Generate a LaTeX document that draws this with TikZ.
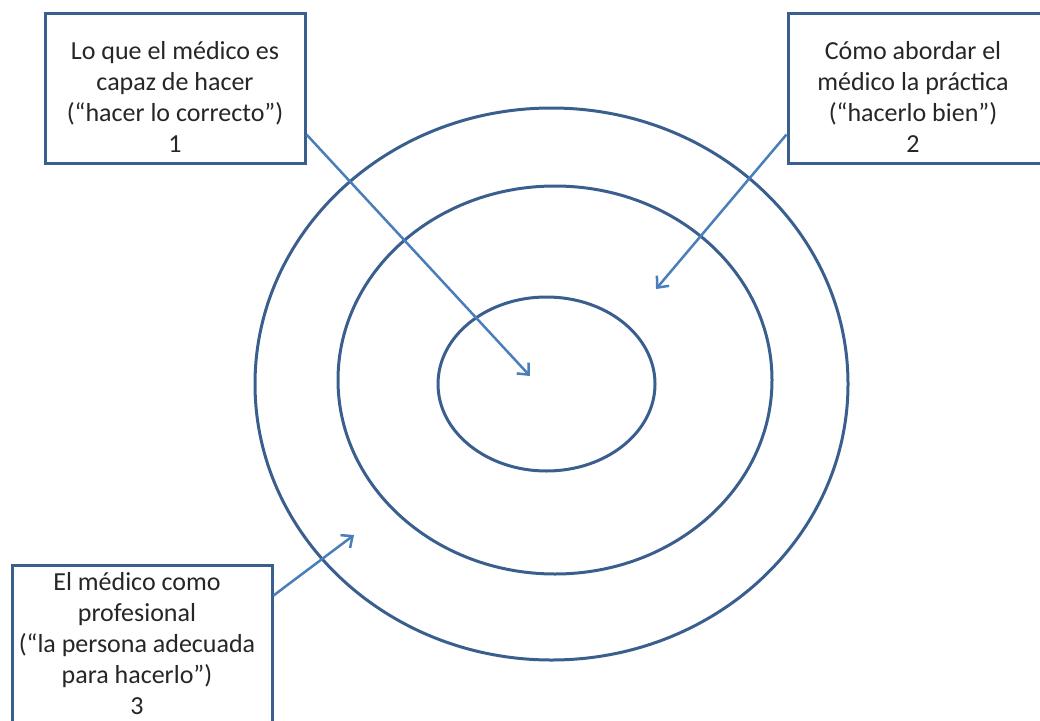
\documentclass[tikz,border=0pt]{standalone}
\usepackage{fontspec}
\setmainfont{Carlito}
\usetikzlibrary{arrows.meta, positioning, calc}
\definecolor{ringblue}{HTML}{3A5F8F}
\definecolor{arrowblue}{HTML}{4A7EBB}

\begin{document}
\begin{tikzpicture}[x=1pt,y=-1pt]
    \tikzstyle{every node} = [font=\fontsize{26}{31}\selectfont, text=black!85]
    \tikzstyle{box} = [draw=ringblue, line width=3pt, fill=white, rectangle, minimum width=260pt, minimum height=150pt]
    \tikzstyle{boxtext} = [align=center, inner sep=1pt]
    \tikzstyle{ring} = [draw=ringblue, line width=3pt]
    \tikzstyle{pointer} = [draw=arrowblue, line width=2.5pt, -{Straight Barb[length=9pt,width=16pt,line width=2.5pt]}]
    \clip (0,0) rectangle (1040,720);

    % rings
    \draw[ring] (551.5,384) ellipse [x radius=296.5pt, y radius=276pt];
    \draw[ring] (555,380) ellipse [x radius=217pt, y radius=194pt];
    \draw[ring] (546.5,384) ellipse [x radius=108.5pt, y radius=87pt];

    % place nodes
    \node[box](box1) at (175,88){};
    \node[box](box2) at (918,88){};
    \node[box,minimum height=180pt](box3) at (142,655){};
    \node[boxtext](lbl1) at ([yshift=-9pt]box1.center){Lo que el médico es\\capaz de hacer\\(“hacer lo correcto”)\\1};
    \node[boxtext](lbl2) at ([xshift=-5pt,yshift=-9pt]box2.center){Cómo abordar el\\médico la práctica\\(“hacerlo bien”)\\2};
    \node[boxtext](lbl3) at ([xshift=-5pt,yshift=11pt]box3.center){El médico como\\profesional\\(“la persona adecuada\\para hacerlo”)\\3};

    \coordinate (tip1) at (530,376);
    \coordinate (tip2) at (656,289);
    \coordinate (tip3) at (354,535);

    % Connections
    \draw[pointer] ($(box1.south east)+(0,-30)$)--(tip1);
    \draw[pointer] ($(box2.south west)+(0,-30)$)--(tip2);
    \draw[pointer] ($(box3.north east)+(0,32)$)--(tip3);

\end{tikzpicture}
\end{document}
